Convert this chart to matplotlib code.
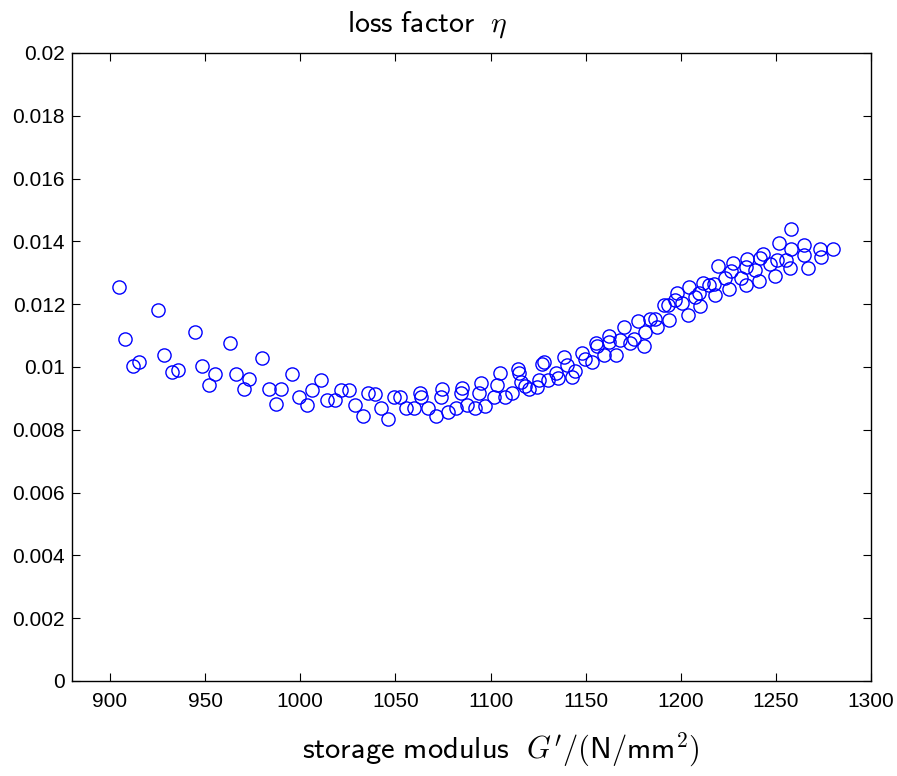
import matplotlib
matplotlib.use("Agg")
import matplotlib.pyplot as plt

plt.rcParams['mathtext.fontset'] = 'cm'
plt.rcParams['font.family'] = ['Liberation Sans', 'DejaVu Sans']

storage_modulus = [
    904.7, 925.4, 907.9, 944.8, 962.9, 928.5, 915.1, 911.9, 979.9, 935.6,
    932.4, 948.2, 955.0, 952.0, 966.2, 973.1, 970.3, 983.4, 990.0, 987.4,
    995.7, 1011.0, 1006.0, 999.3, 1003.4, 1014.2, 1018.4, 1021.4, 1025.6, 1028.8,
    1033.0, 1035.6, 1039.1, 1042.4, 1046.1, 1049.4, 1052.4, 1055.7, 1059.9, 1062.9,
    1063.5, 1067.1, 1071.2, 1074.5, 1074.0, 1077.5, 1081.9, 1085.2, 1084.3, 1087.5,
    1092.0, 1093.8, 1095.0, 1097.3, 1103.4, 1105.2, 1101.6, 1107.4, 1111.3, 1114.5,
    1114.8, 1116.2, 1118.3, 1120.4, 1124.4, 1125.3, 1127.1, 1127.9, 1130.2, 1134.4,
    1135.5, 1138.4, 1140.3, 1144.6, 1142.8, 1148.1, 1149.8, 1153.5, 1155.4, 1156.0,
    1159.5, 1162.1, 1162.5, 1166.0, 1168.2, 1170.0, 1173.5, 1175.2, 1177.5, 1180.5,
    1181.4, 1184.0, 1187.5, 1193.6, 1186.6, 1191.0, 1193.3, 1197.1, 1198.0, 1200.7,
    1203.7, 1204.5, 1207.6, 1209.8, 1210.3, 1211.7, 1214.6, 1217.3, 1217.8, 1219.6,
    1223.2, 1225.6, 1226.2, 1227.2, 1231.5, 1234.1, 1235.0, 1234.1, 1239.2, 1241.0,
    1241.8, 1243.1, 1247.0, 1249.4, 1250.6, 1251.8, 1255.1, 1257.4, 1257.8, 1257.8,
    1264.8, 1264.6, 1266.9, 1273.3, 1273.8, 1279.8,
]
loss_factor = [
    0.01254, 0.01181, 0.01088, 0.01112, 0.01076, 0.01039, 0.01016, 0.01002, 0.01028, 0.00991,
    0.00983, 0.01003, 0.00978, 0.00942, 0.00979, 0.00961, 0.00930, 0.00930, 0.00930, 0.00881,
    0.00978, 0.00960, 0.00927, 0.00905, 0.00880, 0.00894, 0.00894, 0.00926, 0.00926, 0.00880,
    0.00845, 0.00918, 0.00913, 0.00868, 0.00833, 0.00904, 0.00904, 0.00868, 0.00868, 0.00918,
    0.00905, 0.00868, 0.00844, 0.00930, 0.00905, 0.00857, 0.00868, 0.00932, 0.00916, 0.00880,
    0.00869, 0.00918, 0.00950, 0.00877, 0.00943, 0.00980, 0.00905, 0.00903, 0.00918, 0.00993,
    0.00980, 0.00953, 0.00939, 0.00929, 0.00935, 0.00959, 0.01010, 0.01017, 0.00959, 0.00980,
    0.00964, 0.01033, 0.01006, 0.00987, 0.00969, 0.01044, 0.01027, 0.01017, 0.01075, 0.01067,
    0.01038, 0.01099, 0.01081, 0.01038, 0.01086, 0.01128, 0.01078, 0.01088, 0.01147, 0.01067,
    0.01112, 0.01154, 0.01128, 0.01150, 0.01154, 0.01197, 0.01197, 0.01213, 0.01235, 0.01203,
    0.01166, 0.01254, 0.01222, 0.01235, 0.01194, 0.01267, 0.01261, 0.01264, 0.01229, 0.01322,
    0.01282, 0.01248, 0.01307, 0.01330, 0.01282, 0.01261, 0.01343, 0.01317, 0.01309, 0.01274,
    0.01346, 0.01359, 0.01328, 0.01291, 0.01341, 0.01394, 0.01341, 0.01314, 0.01375, 0.01438,
    0.01389, 0.01357, 0.01314, 0.01375, 0.01351, 0.01376,
]
x_ticks = [900, 950, 1000, 1050, 1100, 1150, 1200, 1250, 1300]
y_ticks = [0, 0.002, 0.004, 0.006, 0.008, 0.01, 0.012, 0.014, 0.016, 0.018, 0.02]
y_tick_labels = ['0', '0.002', '0.004', '0.006', '0.008', '0.01', '0.012', '0.014', '0.016', '0.018', '0.02']

fig = plt.figure(figsize=(8.97, 7.76), dpi=100)
ax = fig.add_axes([72/897, 95/776, 799/897, 628/776])
ax.plot(storage_modulus, loss_factor, linestyle='none', marker='o',
        markersize=9.5, markerfacecolor='none', markeredgecolor='#0000ff',
        markeredgewidth=1.0)
ax.set_xlim(880, 1300)
ax.set_ylim(0, 0.02)
ax.set_xticks(x_ticks)
ax.set_xticklabels([str(t) for t in x_ticks])
ax.set_yticks(y_ticks)
ax.set_yticklabels(y_tick_labels)
ax.tick_params(direction='in', top=True, right=True, length=5.5, width=0.8,
               labelsize=15)
ax.tick_params(axis='x', pad=8)
ax.tick_params(axis='y', pad=5)
for s in ax.spines.values():
    s.set_linewidth(1.0)

fig.text(427/897, 1 - 25/776, r"$\mathsf{loss\ factor}\ \ \eta$",
         ha='center', va='center', fontsize=21.5)
fig.text(501/897, 1 - 750/776,
         r"$\mathsf{storage\ modulus}\ \ G'/(\mathsf{N}/\mathsf{mm}^2)$",
         ha='center', va='center', fontsize=22)

fig.savefig("out.png", dpi=100)
